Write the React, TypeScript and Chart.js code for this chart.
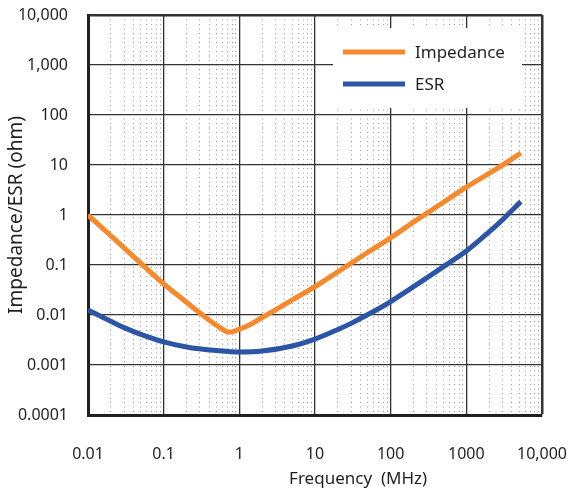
import React, { useEffect, useRef } from "react";
import { Chart, registerables } from "chart.js";

Chart.register(...registerables);

const seriesNames = ["Impedance", "ESR"];
const seriesColors = ["#F6892C", "#2C55A6"];

const impedanceFreq = [0.01, 0.02, 0.03, 0.05, 0.1, 0.2, 0.3, 0.5, 0.75, 1, 1.35, 2, 3, 5, 10, 20, 50, 100, 200, 500, 1000, 2000, 3000, 5250];
const impedanceValues = [1.0, 0.385, 0.22, 0.108, 0.042, 0.018, 0.011, 0.0062, 0.0045, 0.0052, 0.0063, 0.0089, 0.0127, 0.02, 0.037, 0.073, 0.18, 0.35, 0.72, 1.8, 3.6, 6.8, 9.9, 17.4];

const esrFreq = [0.01, 0.02, 0.03, 0.05, 0.1, 0.2, 0.5, 1, 2, 5, 10, 20, 30, 50, 78, 100, 218, 500, 1000, 2000, 3000, 5250];
const esrValues = [0.0126, 0.0075, 0.0056, 0.0041, 0.0029, 0.0023, 0.00195, 0.00182, 0.0019, 0.0024, 0.0033, 0.0051, 0.0068, 0.0102, 0.0148, 0.0185, 0.04, 0.093, 0.19, 0.46, 0.8, 1.85];

const xTickValues = [0.01, 0.1, 1, 10, 100, 1000, 10000];
const xTickLabels = ["0.01", "0.1", "1", "10", "100", "1000", "10,000"];
const yTickValues = [0.0001, 0.001, 0.01, 0.1, 1, 10, 100, 1000, 10000];
const yTickLabels = ["0.0001", "0.001", "0.01", "0.1", "1", "10", "100", "1,000", "10,000"];
const minorMultipliers = [2, 3, 4, 5, 6, 7, 8, 9];

const xAxisTitle = "Frequency  (MHz)";
const yAxisTitle = "Impedance/ESR (ohm)";

const FONT = "'Noto Sans', 'DejaVu Sans', sans-serif";
const TEXT = "#231F20";
const GRID = "#333333";

const legendPlugin = {
  id: "boxLegend",
  afterDatasetsDraw(chart: any) {
    const { ctx, chartArea: a } = chart;
    ctx.save();
    ctx.fillStyle = "#ffffff";
    ctx.fillRect(a.left + 245, a.top + 13, 189, 80);
    ctx.font = `17px ${FONT}`;
    ctx.textBaseline = "middle";
    ctx.textAlign = "left";
    chart.data.datasets.forEach((ds: any, i: number) => {
      const y = a.top + 37 + i * 32;
      ctx.strokeStyle = ds.borderColor;
      ctx.lineWidth = 5;
      ctx.lineCap = "butt";
      ctx.beginPath();
      ctx.moveTo(a.left + 255, y);
      ctx.lineTo(a.left + 317, y);
      ctx.stroke();
      ctx.fillStyle = TEXT;
      ctx.fillText(ds.label, a.left + 327, y + 1);
    });
    ctx.restore();
  },
};

const xTitlePlugin = {
  id: "xTitle",
  afterDraw(chart: any) {
    const { ctx, chartArea: a } = chart;
    ctx.save();
    ctx.font = `17px ${FONT}`;
    ctx.fillStyle = TEXT;
    ctx.textAlign = "center";
    ctx.textBaseline = "middle";
    ctx.fillText(xAxisTitle, a.left + 0.595 * (a.right - a.left), a.bottom + 64);
    ctx.restore();
  },
};

export default function App() {
  const ref = useRef<HTMLCanvasElement | null>(null);

  useEffect(() => {
    if (!ref.current) return;
    const xMinor: number[] = [];
    xTickValues.slice(0, -1).forEach((d) => minorMultipliers.forEach((m) => xMinor.push(d * m)));

    const chart = new Chart(ref.current, {
      type: "line",
      data: {
        datasets: [
          {
            label: seriesNames[0],
            data: impedanceFreq.map((f, i) => ({ x: f, y: impedanceValues[i] })),
            borderColor: seriesColors[0],
            backgroundColor: seriesColors[0],
            borderWidth: 5,
            pointRadius: 0,
            cubicInterpolationMode: "monotone",
          },
          {
            label: seriesNames[1],
            data: esrFreq.map((f, i) => ({ x: f, y: esrValues[i] })),
            borderColor: seriesColors[1],
            backgroundColor: seriesColors[1],
            borderWidth: 5,
            pointRadius: 0,
            cubicInterpolationMode: "monotone",
          },
        ],
      },
      options: {
        animation: false,
        responsive: true,
        maintainAspectRatio: false,
        layout: { padding: { top: 15, right: 33, left: 0, bottom: 0 } },
        plugins: {
          legend: { display: false },
          tooltip: { enabled: false },
        },
        scales: {
          x2: {
            type: "logarithmic",
            position: "bottom",
            min: 0.01,
            max: 10000,
            afterBuildTicks: (s: any) => {
              s.ticks = xMinor.map((v) => ({ value: v }));
            },
            afterFit: (s: any) => {
              s.height = 0;
              s.paddingLeft = 0;
              s.paddingRight = 0;
            },
            ticks: { display: false },
            grid: { color: "#9a9a9a", lineWidth: 1, drawTicks: false },
            border: { display: false, dash: [1, 3.5] },
          },
          x: {
            type: "logarithmic",
            position: "bottom",
            min: 0.01,
            max: 10000,
            afterBuildTicks: (s: any) => {
              s.ticks = xTickValues.map((v) => ({ value: v }));
            },
            afterFit: (s: any) => {
              s.height = 74;
              s.paddingLeft = 0;
              s.paddingRight = 0;
            },
            ticks: {
              autoSkip: false,
              maxRotation: 0,
              padding: 30,
              color: TEXT,
              font: { family: FONT, size: 16 },
              callback: (_v: any, i: number) => xTickLabels[i],
            },
            grid: {
              color: GRID,
              drawTicks: false,
              lineWidth: (c: any) => (c.tick && c.tick.value === 10000 ? 2.5 : 1.3),
            },
            border: { color: TEXT, width: 3 },
          },
          y: {
            type: "logarithmic",
            min: 0.0001,
            max: 10000,
            afterBuildTicks: (s: any) => {
              s.ticks = yTickValues.map((v) => ({ value: v }));
            },
            afterFit: (s: any) => {
              s.width = 88;
              s.paddingTop = 0;
              s.paddingBottom = 0;
            },
            ticks: {
              autoSkip: false,
              padding: 20,
              color: TEXT,
              font: { family: FONT, size: 16 },
              callback: (_v: any, i: number) => yTickLabels[i],
            },
            grid: {
              color: GRID,
              drawTicks: false,
              lineWidth: (c: any) => (c.tick && c.tick.value === 10000 ? 2.5 : 1.3),
            },
            border: { color: TEXT, width: 3 },
            title: {
              display: true,
              text: yAxisTitle,
              color: TEXT,
              font: { family: FONT, size: 19 },
              padding: { top: 5, bottom: 0 },
            },
          },
        },
      } as any,
      plugins: [legendPlugin, xTitlePlugin],
    });
    return () => chart.destroy();
  }, []);

  return (
    <div style={{ position: "fixed", left: 0, top: 0, width: 575, height: 489, background: "#fff" }}>
      <canvas ref={ref} />
    </div>
  );
}
